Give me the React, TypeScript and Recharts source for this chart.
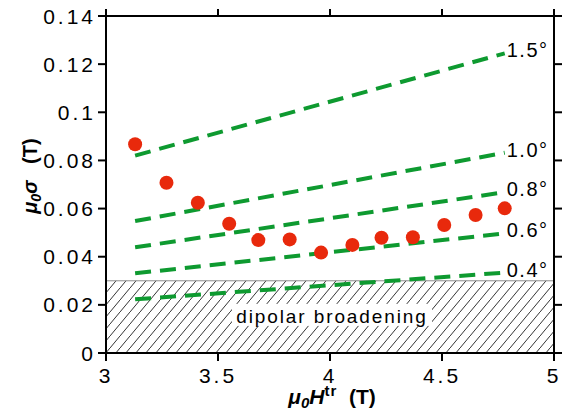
import React from 'react';
import {
  ComposedChart,
  Line,
  Scatter,
  XAxis,
  YAxis,
  ReferenceArea,
  LabelList,
} from 'recharts';

// ---- data ----
const xTicks = [3, 3.5, 4, 4.5, 5];
const yTicks = [0, 0.02, 0.04, 0.06, 0.08, 0.1, 0.12, 0.14];

const fieldTr = [3.13, 3.27, 3.41, 3.55, 3.68, 3.82, 3.96, 4.1, 4.23, 4.37, 4.51, 4.65, 4.78];
const sigmaMeasured = [0.0867, 0.0707, 0.0624, 0.0537, 0.0469, 0.0472, 0.0417, 0.0449, 0.0479, 0.0481, 0.0532, 0.0573, 0.0601];

const angleLabels = ['1.5°', '1.0°', '0.8°', '0.6°', '0.4°'];
const lineX = [3.13, 4.78];
const lineStartSigma = [0.082, 0.0548, 0.0439, 0.0331, 0.0223];
const lineEndSigma = [0.1245, 0.0832, 0.0668, 0.0497, 0.0334];

const dipolarLimit = 0.03;
const dipolarText = 'dipolar broadening';

const xDomain = [3, 5];
const yDomain = [0, 0.14];

// ---- derived tables ----
const pointData = fieldTr.map((x, i) => ({ x, y: sigmaMeasured[i] }));
const angleLines = angleLabels.map((label, i) => ({
  label,
  data: [
    { x: lineX[0], y: lineStartSigma[i] },
    { x: lineX[1], y: lineEndSigma[i] },
  ],
}));

const FONT = '"Liberation Sans", Arial, Helvetica, sans-serif';
const GREEN = '#0e9a30';
const RED = '#e8290c';

const fmt = (v: number) => String(Math.round(v * 1000) / 1000);

const YTick = (props: any) => {
  const { x, y, payload } = props;
  return (
    <text x={x} y={y} dy={7.5} textAnchor="end" fontFamily={FONT} fontSize={21} letterSpacing={3} fill="#000">
      {fmt(payload.value)}
    </text>
  );
};

const XTick = (props: any) => {
  const { x, y, payload } = props;
  return (
    <text x={x} y={y} dy={20} textAnchor="middle" fontFamily={FONT} fontSize={21} letterSpacing={3} fill="#000">
      {fmt(payload.value)}
    </text>
  );
};

const XLabel = (props: any) => {
  const vb = props.viewBox || {};
  const cx = vb.x + vb.width / 2 + 2;
  const y = vb.y + 51;
  return (
    <text x={cx} y={y} textAnchor="middle" fontFamily={FONT} fontSize={21} fontWeight="bold" fill="#000">
      <tspan fontStyle="italic">μ</tspan>
      <tspan fontStyle="italic" fontSize={15} dy={4}>0</tspan>
      <tspan fontStyle="italic" dy={-4}>H</tspan>
      <tspan fontSize={15} dy={-8} letterSpacing={1}>tr</tspan>
      <tspan dy={8}>{'\u00a0\u00a0(T)'}</tspan>
    </text>
  );
};

const YLabel = () => {
  const cx = 37;
  const cy = 176;
  return (
    <text
      x={cx}
      y={cy}
      transform={`rotate(-90, ${cx}, ${cy})`}
      textAnchor="middle"
      fontFamily={FONT}
      fontSize={20}
      fontWeight="bold"
      fill="#000"
    >
      <tspan fontStyle="italic">μ</tspan>
      <tspan fontStyle="italic" fontSize={14} dy={4}>0</tspan>
      <tspan fontStyle="italic" dy={-4}>σ</tspan>
      <tspan>{'\u00a0\u00a0\u00a0(T)'}</tspan>
    </text>
  );
};

// Label of the dipolar-broadening area: also draws the top/right frame with
// outward ticks, derived from the area's box (same scale as the axes).
const DipolarLabel = (props: any) => {
  const vb = props.viewBox || {};
  if (vb.width == null) return null;
  const cx = vb.x + vb.width / 2 + 2;
  const cy = vb.y + vb.height / 2;
  const left = vb.x;
  const right = vb.x + vb.width;
  const bottom = vb.y + vb.height;
  const pxPerY = vb.height / (dipolarLimit - yDomain[0]);
  const top = bottom - (yDomain[1] - yDomain[0]) * pxPerY;
  const pxPerX = vb.width / (xDomain[1] - xDomain[0]);
  return (
    <g>
      <line x1={left} x2={right} y1={vb.y} y2={vb.y} stroke="#8a8a8a" strokeWidth={1} />
      <rect x={cx - 100} y={cy - 13} width={200} height={22} fill="#fff" />
      <text x={cx} y={cy + 6} textAnchor="middle" fontFamily={FONT} fontSize={19} letterSpacing={1.9} fill="#000">
        {dipolarText}
      </text>
      <g stroke="#000" strokeWidth={2} fill="none">
        <line x1={left - 1} x2={right + 1} y1={top} y2={top} />
        <line x1={right} x2={right} y1={top} y2={bottom} />
        {xTicks.map((t) => {
          const px = left + (t - xDomain[0]) * pxPerX;
          return <line key={'tx' + t} x1={px} x2={px} y1={top} y2={top - 7} />;
        })}
        {yTicks.map((t) => {
          const py = bottom - (t - yDomain[0]) * pxPerY;
          return <line key={'ty' + t} x1={right} x2={right + 8} y1={py} y2={py} />;
        })}
      </g>
    </g>
  );
};

const makeEndLabel = (text: string) => (props: any) => {
  const { x, y, index } = props;
  if (index !== 1) return null;
  return (
    <text x={x + 2} y={y + 4} textAnchor="start" fontFamily={FONT} fontSize={20} letterSpacing={1.5} fill="#000">
      {text}
    </text>
  );
};

const Dot = (props: any) => {
  const { cx, cy } = props;
  if (cx == null || cy == null) return null;
  return <circle cx={cx} cy={cy} r={7} fill={RED} />;
};

export default function App() {
  return (
    <div style={{ position: 'absolute', left: 0, top: 0, background: '#fff' }}>
      <ComposedChart width={565} height={412} margin={{ top: 16, right: 11, bottom: 9, left: 16 }}>
        <defs>
          <pattern id="hatch" patternUnits="userSpaceOnUse" width={10} height={12}>
            <path d="M-1,13.2 L11,-1.2" stroke="#000" strokeWidth={0.8} />
          </pattern>
        </defs>
        <XAxis
          xAxisId="b"
          dataKey="x"
          type="number"
          domain={xDomain}
          ticks={xTicks}
          allowDataOverflow
          height={50}
          axisLine={{ stroke: '#000', strokeWidth: 2 }}
          tickLine={{ stroke: '#000', strokeWidth: 2 }}
          tickSize={8}
          tickMargin={2}
          tick={<XTick />}
          label={<XLabel />}
        />
        <YAxis
          yAxisId="l"
          type="number"
          domain={yDomain}
          ticks={yTicks}
          allowDataOverflow
          width={90}
          axisLine={{ stroke: '#000', strokeWidth: 2 }}
          tickLine={{ stroke: '#000', strokeWidth: 2 }}
          tickSize={8}
          tickMargin={2}
          tick={<YTick />}
          label={<YLabel />}
        />
        <ReferenceArea
          xAxisId="b"
          yAxisId="l"
          x1={xDomain[0]}
          x2={xDomain[1]}
          y1={0}
          y2={dipolarLimit}
          fill="url(#hatch)"
          fillOpacity={1}
          stroke="none"
          label={<DipolarLabel />}
        />
        {angleLines.map((ln) => (
          <Line
            key={ln.label}
            xAxisId="b"
            yAxisId="l"
            data={ln.data}
            dataKey="y"
            type="linear"
            stroke={GREEN}
            strokeWidth={4}
            strokeDasharray="16 9"
            dot={false}
            activeDot={false}
            isAnimationActive={false}
          >
            <LabelList dataKey="y" content={makeEndLabel(ln.label)} />
          </Line>
        ))}
        <Scatter
          xAxisId="b"
          yAxisId="l"
          data={pointData}
          dataKey="y"
          shape={<Dot />}
          isAnimationActive={false}
        />
      </ComposedChart>
    </div>
  );
}
